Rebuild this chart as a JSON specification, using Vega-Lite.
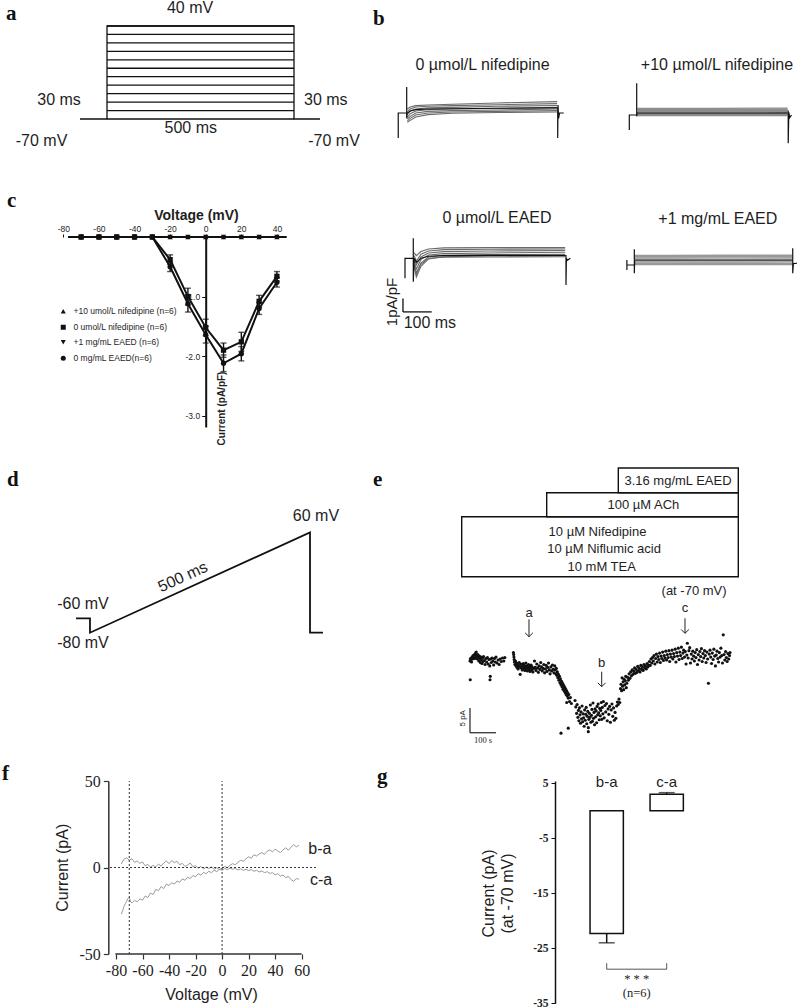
{
"$schema": "https://vega.github.io/schema/vega-lite/v6.json",
"padding": 0,
"background": "white",
"columns": 3,
"align": "each",
"spacing": 0,
"bounds": "flush",
"config": {
  "view": {"stroke": null},
  "concat": {"spacing": 0},
  "text": {"font": "Liberation Sans", "fontSize": 16, "color": "#1e1e1e"},
  "axis": {"grid": false, "labelFont": "Liberation Sans", "titleFont": "Liberation Sans", "domainColor": "#111", "tickColor": "#111", "labelColor": "#1e1e1e", "titleColor": "#1e1e1e", "labelOverlap": false}
},
"datasets": {
  "aLevels": [{"v":-70},{"v":-60},{"v":-50},{"v":-40},{"v":-30},{"v":-20},{"v":-10},{"v":0},{"v":10},{"v":20},{"v":30},{"v":40}],
  "aPath": [{"s":1,"t":-72.2,"v":-70},{"s":2,"t":0,"v":-70},{"s":3,"t":0,"v":40},{"s":4,"t":500,"v":40},{"s":5,"t":500,"v":-70},{"s":6,"t":569.5,"v":-70}],
  "aText": [{"label":"40 mV","t":222,"v":60.7},{"label":"30 ms","t":-128.3,"v":-47.5},{"label":"30 ms","t":585,"v":-47.5},{"label":"500 ms","t":224,"v":-80.6},{"label":"-70 mV","t":-175,"v":-96},{"label":"-70 mV","t":607,"v":-96}],
  "labA": [{"label":"a","t":-270,"v":47.1},{"label":"b","t":711.2,"v":41.2}],
  "cData": [
    {"cond":"+10 umol/L nifedipine (n=6)","v":-70,"m":0},{"cond":"+10 umol/L nifedipine (n=6)","v":-60,"m":0},{"cond":"+10 umol/L nifedipine (n=6)","v":-50,"m":0},{"cond":"+10 umol/L nifedipine (n=6)","v":-40,"m":0},{"cond":"+10 umol/L nifedipine (n=6)","v":-30,"m":0},{"cond":"+10 umol/L nifedipine (n=6)","v":-20,"m":0},{"cond":"+10 umol/L nifedipine (n=6)","v":-10,"m":0},{"cond":"+10 umol/L nifedipine (n=6)","v":0,"m":0},{"cond":"+10 umol/L nifedipine (n=6)","v":10,"m":0},{"cond":"+10 umol/L nifedipine (n=6)","v":20,"m":0},{"cond":"+10 umol/L nifedipine (n=6)","v":30,"m":0},{"cond":"+10 umol/L nifedipine (n=6)","v":40,"m":0},
    {"cond":"0 umol/L nifedipine (n=6)","v":-70,"m":0},{"cond":"0 umol/L nifedipine (n=6)","v":-60,"m":0},{"cond":"0 umol/L nifedipine (n=6)","v":-50,"m":0},{"cond":"0 umol/L nifedipine (n=6)","v":-40,"m":0},{"cond":"0 umol/L nifedipine (n=6)","v":-30,"m":0},{"cond":"0 umol/L nifedipine (n=6)","v":-20,"m":-0.38},{"cond":"0 umol/L nifedipine (n=6)","v":-10,"m":-1.0},{"cond":"0 umol/L nifedipine (n=6)","v":0,"m":-1.52},{"cond":"0 umol/L nifedipine (n=6)","v":10,"m":-1.9},{"cond":"0 umol/L nifedipine (n=6)","v":20,"m":-1.76},{"cond":"0 umol/L nifedipine (n=6)","v":30,"m":-1.08},{"cond":"0 umol/L nifedipine (n=6)","v":40,"m":-0.66},
    {"cond":"+1 mg/mL EAED (n=6)","v":-70,"m":0},{"cond":"+1 mg/mL EAED (n=6)","v":-60,"m":0},{"cond":"+1 mg/mL EAED (n=6)","v":-50,"m":0},{"cond":"+1 mg/mL EAED (n=6)","v":-40,"m":0},{"cond":"+1 mg/mL EAED (n=6)","v":-30,"m":0},{"cond":"+1 mg/mL EAED (n=6)","v":-20,"m":0},{"cond":"+1 mg/mL EAED (n=6)","v":-10,"m":0},{"cond":"+1 mg/mL EAED (n=6)","v":0,"m":0},{"cond":"+1 mg/mL EAED (n=6)","v":10,"m":0},{"cond":"+1 mg/mL EAED (n=6)","v":20,"m":0},{"cond":"+1 mg/mL EAED (n=6)","v":30,"m":0},{"cond":"+1 mg/mL EAED (n=6)","v":40,"m":0},
    {"cond":"0 mg/mL EAED(n=6)","v":-70,"m":0},{"cond":"0 mg/mL EAED(n=6)","v":-60,"m":0},{"cond":"0 mg/mL EAED(n=6)","v":-50,"m":0},{"cond":"0 mg/mL EAED(n=6)","v":-40,"m":0},{"cond":"0 mg/mL EAED(n=6)","v":-30,"m":0},{"cond":"0 mg/mL EAED(n=6)","v":-20,"m":-0.5},{"cond":"0 mg/mL EAED(n=6)","v":-10,"m":-1.12},{"cond":"0 mg/mL EAED(n=6)","v":0,"m":-1.64},{"cond":"0 mg/mL EAED(n=6)","v":10,"m":-2.12},{"cond":"0 mg/mL EAED(n=6)","v":20,"m":-1.96},{"cond":"0 mg/mL EAED(n=6)","v":30,"m":-1.2},{"cond":"0 mg/mL EAED(n=6)","v":40,"m":-0.76}
  ],
  "cErr": [
    {"v":-20,"lo":-0.46,"hi":-0.30},{"v":-10,"lo":-1.14,"hi":-0.86},{"v":0,"lo":-1.66,"hi":-1.38},{"v":10,"lo":-2.02,"hi":-1.78},{"v":20,"lo":-1.92,"hi":-1.60},{"v":30,"lo":-1.18,"hi":-0.98},{"v":40,"lo":-0.74,"hi":-0.58},
    {"v":-20,"lo":-0.58,"hi":-0.42},{"v":-10,"lo":-1.26,"hi":-0.98},{"v":0,"lo":-1.78,"hi":-1.50},{"v":10,"lo":-2.26,"hi":-1.98},{"v":20,"lo":-2.08,"hi":-1.84},{"v":30,"lo":-1.30,"hi":-1.10},{"v":40,"lo":-0.84,"hi":-0.68}
  ],
  "dPath": [{"s":1,"t":-31.8,"v":-60},{"s":2,"t":0,"v":-60},{"s":3,"t":0,"v":-80},{"s":4,"t":500,"v":60},{"s":5,"t":500,"v":-80},{"s":6,"t":529.5,"v":-80}],
  "dText": [{"label":"60 mV","t":513.6,"v":82.7},{"label":"-60 mV","t":-15.9,"v":-40},{"label":"-80 mV","t":-15.9,"v":-94.8}],
  "labD": [{"label":"d","t":-188.6,"v":124.6},{"label":"e","t":643.2,"v":124.6}],
  "fLines": [
    {"s":"b-a","v":-76,"i":2.0},{"s":"b-a","v":-74,"i":4.8},{"s":"b-a","v":-72,"i":5.6},{"s":"b-a","v":-70,"i":4.2},{"s":"b-a","v":-68,"i":5.1},{"s":"b-a","v":-66,"i":3.0},{"s":"b-a","v":-64,"i":3.8},{"s":"b-a","v":-62,"i":2.4},{"s":"b-a","v":-60,"i":3.2},{"s":"b-a","v":-58,"i":1.0},{"s":"b-a","v":-56,"i":1.8},{"s":"b-a","v":-54,"i":0.2},{"s":"b-a","v":-52,"i":1.2},{"s":"b-a","v":-50,"i":0.4},{"s":"b-a","v":-48,"i":2.0},{"s":"b-a","v":-46,"i":0.8},{"s":"b-a","v":-44,"i":2.6},{"s":"b-a","v":-42,"i":3.8},{"s":"b-a","v":-40,"i":2.2},{"s":"b-a","v":-38,"i":4.0},{"s":"b-a","v":-36,"i":2.8},{"s":"b-a","v":-34,"i":3.6},{"s":"b-a","v":-32,"i":1.6},{"s":"b-a","v":-30,"i":2.4},{"s":"b-a","v":-28,"i":0.6},{"s":"b-a","v":-26,"i":1.4},{"s":"b-a","v":-24,"i":2.6},{"s":"b-a","v":-22,"i":0.4},{"s":"b-a","v":-20,"i":1.2},{"s":"b-a","v":-18,"i":-0.4},{"s":"b-a","v":-16,"i":0.6},{"s":"b-a","v":-14,"i":-0.8},{"s":"b-a","v":-12,"i":0.2},{"s":"b-a","v":-10,"i":-0.6},{"s":"b-a","v":-8,"i":0.4},{"s":"b-a","v":-6,"i":-1.0},{"s":"b-a","v":-4,"i":-0.2},{"s":"b-a","v":-2,"i":-1.2},{"s":"b-a","v":0,"i":-0.4},{"s":"b-a","v":2,"i":0.6},{"s":"b-a","v":4,"i":-0.2},{"s":"b-a","v":6,"i":1.4},{"s":"b-a","v":8,"i":2.2},{"s":"b-a","v":10,"i":1.6},{"s":"b-a","v":12,"i":3.0},{"s":"b-a","v":14,"i":4.2},{"s":"b-a","v":16,"i":3.6},{"s":"b-a","v":18,"i":5.0},{"s":"b-a","v":20,"i":6.2},{"s":"b-a","v":22,"i":5.4},{"s":"b-a","v":24,"i":7.4},{"s":"b-a","v":26,"i":6.6},{"s":"b-a","v":28,"i":7.8},{"s":"b-a","v":30,"i":8.6},{"s":"b-a","v":32,"i":7.6},{"s":"b-a","v":34,"i":9.4},{"s":"b-a","v":36,"i":10.2},{"s":"b-a","v":38,"i":9.0},{"s":"b-a","v":40,"i":10.6},{"s":"b-a","v":42,"i":9.6},{"s":"b-a","v":44,"i":8.6},{"s":"b-a","v":46,"i":10.2},{"s":"b-a","v":48,"i":11.4},{"s":"b-a","v":50,"i":10.0},{"s":"b-a","v":52,"i":11.8},{"s":"b-a","v":54,"i":13.2},{"s":"b-a","v":56,"i":12.0},{"s":"b-a","v":58,"i":12.8},
    {"s":"c-a","v":-76,"i":-27.0},{"s":"c-a","v":-75,"i":-25.0},{"s":"c-a","v":-74,"i":-22.5},{"s":"c-a","v":-73,"i":-21.0},{"s":"c-a","v":-72,"i":-19.5},{"s":"c-a","v":-71,"i":-18.0},{"s":"c-a","v":-70,"i":-17.2},{"s":"c-a","v":-69,"i":-19.8},{"s":"c-a","v":-68,"i":-20.5},{"s":"c-a","v":-66,"i":-19.0},{"s":"c-a","v":-64,"i":-19.8},{"s":"c-a","v":-62,"i":-18.2},{"s":"c-a","v":-60,"i":-18.9},{"s":"c-a","v":-58,"i":-16.5},{"s":"c-a","v":-56,"i":-17.4},{"s":"c-a","v":-54,"i":-14.8},{"s":"c-a","v":-52,"i":-15.6},{"s":"c-a","v":-50,"i":-12.6},{"s":"c-a","v":-48,"i":-13.4},{"s":"c-a","v":-46,"i":-11.0},{"s":"c-a","v":-44,"i":-12.2},{"s":"c-a","v":-42,"i":-9.6},{"s":"c-a","v":-40,"i":-10.4},{"s":"c-a","v":-38,"i":-8.8},{"s":"c-a","v":-36,"i":-9.6},{"s":"c-a","v":-34,"i":-7.8},{"s":"c-a","v":-32,"i":-8.6},{"s":"c-a","v":-30,"i":-6.6},{"s":"c-a","v":-28,"i":-7.4},{"s":"c-a","v":-26,"i":-5.6},{"s":"c-a","v":-24,"i":-6.4},{"s":"c-a","v":-22,"i":-4.6},{"s":"c-a","v":-20,"i":-5.4},{"s":"c-a","v":-18,"i":-3.6},{"s":"c-a","v":-16,"i":-4.4},{"s":"c-a","v":-14,"i":-2.8},{"s":"c-a","v":-12,"i":-3.6},{"s":"c-a","v":-10,"i":-2.2},{"s":"c-a","v":-8,"i":-3.0},{"s":"c-a","v":-6,"i":-1.6},{"s":"c-a","v":-4,"i":-2.4},{"s":"c-a","v":-2,"i":-1.0},{"s":"c-a","v":0,"i":-1.6},{"s":"c-a","v":2,"i":-0.6},{"s":"c-a","v":4,"i":-1.2},{"s":"c-a","v":6,"i":-0.4},{"s":"c-a","v":8,"i":-1.0},{"s":"c-a","v":10,"i":-0.6},{"s":"c-a","v":12,"i":-1.4},{"s":"c-a","v":14,"i":-0.8},{"s":"c-a","v":16,"i":-1.6},{"s":"c-a","v":18,"i":-1.0},{"s":"c-a","v":20,"i":-1.8},{"s":"c-a","v":22,"i":-1.2},{"s":"c-a","v":24,"i":-2.2},{"s":"c-a","v":26,"i":-1.6},{"s":"c-a","v":28,"i":-2.6},{"s":"c-a","v":30,"i":-2.0},{"s":"c-a","v":32,"i":-3.0},{"s":"c-a","v":34,"i":-2.4},{"s":"c-a","v":36,"i":-3.4},{"s":"c-a","v":38,"i":-3.0},{"s":"c-a","v":40,"i":-4.2},{"s":"c-a","v":42,"i":-3.6},{"s":"c-a","v":44,"i":-5.0},{"s":"c-a","v":46,"i":-4.4},{"s":"c-a","v":48,"i":-5.8},{"s":"c-a","v":50,"i":-5.2},{"s":"c-a","v":52,"i":-7.0},{"s":"c-a","v":54,"i":-8.0},{"s":"c-a","v":56,"i":-6.4},{"s":"c-a","v":58,"i":-6.8}
  ],
  "fVert": [{"v":-70},{"v":0}],
  "fText": [{"label":"b-a","v":73.8,"i":10.6},{"label":"c-a","v":74.6,"i":-7.4}],
  "labF": [{"label":"f","v":-165.9,"i":50.6},{"label":"g","v":116.8,"i":48.8}],
  "bTLt": [
    {"k":"1","t":2,"i":0.3},{"k":"1","t":12,"i":0.45},{"k":"1","t":30,"i":0.55},{"k":"1","t":70,"i":0.6},{"k":"1","t":150,"i":0.65},{"k":"1","t":300,"i":0.75},{"k":"1","t":498,"i":0.85},
    {"k":"2","t":2,"i":0.1},{"k":"2","t":12,"i":0.3},{"k":"2","t":30,"i":0.45},{"k":"2","t":70,"i":0.5},{"k":"2","t":150,"i":0.55},{"k":"2","t":300,"i":0.62},{"k":"2","t":498,"i":0.7},
    {"k":"3","t":2,"i":-0.1},{"k":"3","t":12,"i":0.15},{"k":"3","t":30,"i":0.3},{"k":"3","t":70,"i":0.38},{"k":"3","t":150,"i":0.42},{"k":"3","t":300,"i":0.5},{"k":"3","t":498,"i":0.56},
    {"k":"4","t":2,"i":-0.3},{"k":"4","t":12,"i":-0.05},{"k":"4","t":30,"i":0.15},{"k":"4","t":70,"i":0.25},{"k":"4","t":150,"i":0.3},{"k":"4","t":300,"i":0.36},{"k":"4","t":498,"i":0.42},
    {"k":"5","t":2,"i":-0.45},{"k":"5","t":12,"i":-0.25},{"k":"5","t":30,"i":0.0},{"k":"5","t":70,"i":0.12},{"k":"5","t":150,"i":0.18},{"k":"5","t":300,"i":0.22},{"k":"5","t":498,"i":0.3},
    {"k":"6","t":2,"i":-0.6},{"k":"6","t":12,"i":-0.4},{"k":"6","t":30,"i":-0.15},{"k":"6","t":70,"i":0.0},{"k":"6","t":150,"i":0.08},{"k":"6","t":300,"i":0.12},{"k":"6","t":498,"i":0.18},
    {"k":"7","t":2,"i":-0.7},{"k":"7","t":12,"i":-0.55},{"k":"7","t":30,"i":-0.3},{"k":"7","t":70,"i":-0.12},{"k":"7","t":150,"i":-0.02},{"k":"7","t":300,"i":0.04},{"k":"7","t":498,"i":0.08},
    {"k":"d","t":2,"i":0.0},{"k":"d","t":12,"i":0.15},{"k":"d","t":30,"i":0.25},{"k":"d","t":70,"i":0.3},{"k":"d","t":150,"i":0.32},{"k":"d","t":300,"i":0.35},{"k":"d","t":498,"i":0.38}
  ],
  "bTLf": [{"k":"pre","s":1,"t":-28,"i":-1.87},{"k":"pre","s":2,"t":-28,"i":0},{"k":"pre","s":3,"t":0,"i":0},{"k":"pre","s":4,"t":0,"i":1.94},{"k":"pre","s":5,"t":0,"i":-0.4},{"k":"pre","s":6,"t":2,"i":0.0},
    {"k":"post","s":1,"t":498,"i":0.4},{"k":"post","s":2,"t":500,"i":0.4},{"k":"post","s":3,"t":500,"i":-1.87},{"k":"post","s":4,"t":501,"i":0.6},{"k":"post","s":5,"t":503,"i":-0.4},{"k":"post","s":6,"t":506,"i":0.0},{"k":"post","s":7,"t":520,"i":0.0}],
  "bTRt": [
    {"k":"1","t":2,"i":0.5},{"k":"1","t":60,"i":0.49},{"k":"1","t":250,"i":0.5},{"k":"1","t":498,"i":0.51},
    {"k":"2","t":2,"i":0.42},{"k":"2","t":60,"i":0.42},{"k":"2","t":250,"i":0.43},{"k":"2","t":498,"i":0.43},
    {"k":"3","t":2,"i":0.34},{"k":"3","t":60,"i":0.34},{"k":"3","t":250,"i":0.35},{"k":"3","t":498,"i":0.35},
    {"k":"4","t":2,"i":0.26},{"k":"4","t":60,"i":0.26},{"k":"4","t":250,"i":0.27},{"k":"4","t":498,"i":0.27},
    {"k":"5","t":2,"i":0.18},{"k":"5","t":60,"i":0.18},{"k":"5","t":250,"i":0.19},{"k":"5","t":498,"i":0.19},
    {"k":"6","t":2,"i":0.1},{"k":"6","t":60,"i":0.1},{"k":"6","t":250,"i":0.11},{"k":"6","t":498,"i":0.11},
    {"k":"7","t":2,"i":0.02},{"k":"7","t":60,"i":0.02},{"k":"7","t":250,"i":0.03},{"k":"7","t":498,"i":0.03},
    {"k":"8","t":2,"i":-0.05},{"k":"8","t":60,"i":-0.05},{"k":"8","t":250,"i":-0.04},{"k":"8","t":498,"i":-0.04},
    {"k":"d","t":2,"i":0.14},{"k":"d","t":60,"i":0.14},{"k":"d","t":250,"i":0.14},{"k":"d","t":498,"i":0.15}
  ],
  "bTRf": [{"k":"pre","s":1,"t":-24.4,"i":-1.12},{"k":"pre","s":2,"t":-24.4,"i":0},{"k":"pre","s":3,"t":0,"i":0},{"k":"pre","s":4,"t":0,"i":2.37},{"k":"pre","s":5,"t":0,"i":-0.1},{"k":"pre","s":6,"t":2,"i":0.2},
    {"k":"post","s":1,"t":498,"i":0.3},{"k":"post","s":2,"t":500,"i":0.3},{"k":"post","s":3,"t":500,"i":-2.1},{"k":"post","s":4,"t":502,"i":0.2},{"k":"post","s":5,"t":505,"i":-0.2},{"k":"post","s":6,"t":511,"i":0.0}],
  "bBLt": [
    {"k":"1","t":3,"i":0.4},{"k":"1","t":10,"i":0.2},{"k":"1","t":25,"i":0.5},{"k":"1","t":50,"i":0.7},{"k":"1","t":100,"i":0.78},{"k":"1","t":250,"i":0.8},{"k":"1","t":498,"i":0.8},
    {"k":"2","t":3,"i":0.2},{"k":"2","t":10,"i":-0.2},{"k":"2","t":25,"i":0.3},{"k":"2","t":50,"i":0.55},{"k":"2","t":100,"i":0.65},{"k":"2","t":250,"i":0.68},{"k":"2","t":498,"i":0.7},
    {"k":"3","t":3,"i":0.0},{"k":"3","t":10,"i":-0.5},{"k":"3","t":25,"i":0.1},{"k":"3","t":50,"i":0.4},{"k":"3","t":100,"i":0.5},{"k":"3","t":250,"i":0.55},{"k":"3","t":498,"i":0.58},
    {"k":"4","t":3,"i":-0.2},{"k":"4","t":10,"i":-0.8},{"k":"4","t":25,"i":-0.1},{"k":"4","t":50,"i":0.25},{"k":"4","t":100,"i":0.35},{"k":"4","t":250,"i":0.4},{"k":"4","t":498,"i":0.45},
    {"k":"5","t":3,"i":-0.4},{"k":"5","t":10,"i":-1.1},{"k":"5","t":25,"i":-0.35},{"k":"5","t":50,"i":0.1},{"k":"5","t":100,"i":0.22},{"k":"5","t":250,"i":0.28},{"k":"5","t":498,"i":0.3},
    {"k":"6","t":3,"i":-0.6},{"k":"6","t":10,"i":-1.4},{"k":"6","t":25,"i":-0.6},{"k":"6","t":50,"i":-0.05},{"k":"6","t":100,"i":0.12},{"k":"6","t":250,"i":0.18},{"k":"6","t":498,"i":0.2},
    {"k":"7","t":3,"i":-0.5},{"k":"7","t":10,"i":-1.2},{"k":"7","t":25,"i":-0.45},{"k":"7","t":50,"i":0.0},{"k":"7","t":100,"i":0.08},{"k":"7","t":250,"i":0.1},{"k":"7","t":498,"i":0.12},
    {"k":"d","t":3,"i":0.0},{"k":"d","t":10,"i":-0.3},{"k":"d","t":25,"i":0.0},{"k":"d","t":50,"i":0.15},{"k":"d","t":100,"i":0.2},{"k":"d","t":250,"i":0.22},{"k":"d","t":498,"i":0.22}
  ],
  "bBLf": [{"k":"pre","s":1,"t":-27.2,"i":-1.49},{"k":"pre","s":2,"t":-27.2,"i":0},{"k":"pre","s":3,"t":0,"i":0},{"k":"pre","s":4,"t":0,"i":1.49},{"k":"pre","s":5,"t":0,"i":-1.75},{"k":"pre","s":6,"t":3,"i":0.0},
    {"k":"post","s":1,"t":498,"i":0.2},{"k":"post","s":2,"t":500.6,"i":0.2},{"k":"post","s":3,"t":500.6,"i":-1.99},{"k":"post","s":4,"t":502,"i":0.0},{"k":"post","s":5,"t":505,"i":-0.15},{"k":"post","s":6,"t":515,"i":0.0}],
  "bBLbar": [{"t0":-33.8,"t1":-33.8,"i0":-3.0,"i1":-4.0},{"t0":-33.8,"t1":60.3,"i0":-4.0,"i1":-4.0}],
  "bBRt": [
    {"k":"1","t":2,"i":0.72},{"k":"1","t":100,"i":0.72},{"k":"1","t":300,"i":0.73},{"k":"1","t":498,"i":0.73},
    {"k":"2","t":2,"i":0.62},{"k":"2","t":100,"i":0.62},{"k":"2","t":300,"i":0.63},{"k":"2","t":498,"i":0.62},
    {"k":"3","t":2,"i":0.52},{"k":"3","t":100,"i":0.52},{"k":"3","t":300,"i":0.53},{"k":"3","t":498,"i":0.53},
    {"k":"4","t":2,"i":0.42},{"k":"4","t":100,"i":0.42},{"k":"4","t":300,"i":0.42},{"k":"4","t":498,"i":0.43},
    {"k":"5","t":2,"i":0.32},{"k":"5","t":100,"i":0.32},{"k":"5","t":300,"i":0.33},{"k":"5","t":498,"i":0.32},
    {"k":"6","t":2,"i":0.22},{"k":"6","t":100,"i":0.22},{"k":"6","t":300,"i":0.22},{"k":"6","t":498,"i":0.23},
    {"k":"7","t":2,"i":0.12},{"k":"7","t":100,"i":0.12},{"k":"7","t":300,"i":0.13},{"k":"7","t":498,"i":0.12},
    {"k":"8","t":2,"i":0.03},{"k":"8","t":100,"i":0.03},{"k":"8","t":300,"i":0.03},{"k":"8","t":498,"i":0.04},
    {"k":"d","t":2,"i":0.36},{"k":"d","t":100,"i":0.36},{"k":"d","t":300,"i":0.36},{"k":"d","t":498,"i":0.36}
  ],
  "bBRf": [{"k":"pre","s":1,"t":-23.5,"i":0.37},{"k":"pre","s":2,"t":-23.5,"i":-0.37},{"k":"pre","s":3,"t":-23.5,"i":0},{"k":"pre","s":4,"t":0,"i":0},{"k":"pre","s":5,"t":0,"i":1.17},{"k":"pre","s":6,"t":0,"i":-0.62},{"k":"pre","s":7,"t":1,"i":0.3},
    {"k":"post","s":1,"t":498,"i":0.4},{"k":"post","s":2,"t":500,"i":0.4},{"k":"post","s":3,"t":500,"i":1.25},{"k":"post","s":4,"t":500,"i":-0.62},{"k":"post","s":5,"t":502,"i":0.1},{"k":"post","s":6,"t":521.6,"i":0.15}],
  "eBoxes": [{"x0":-31.9,"x1":1031.9,"y0":0,"y1":2.5},{"x0":295,"x1":1031.9,"y0":2.5,"y1":3.5},{"x0":570.4,"x1":1031.9,"y0":3.5,"y1":4.53}],
  "eText": [{"label":"3.16 mg/mL EAED","t":800,"lv":4.0},{"label":"100 µM ACh","t":666.7,"lv":2.99},{"label":"10 µM Nifedipine","t":490.4,"lv":1.875},{"label":"10 µM Niflumic acid","t":515.6,"lv":1.154},{"label":"10 mM TEA","t":506.4,"lv":0.392},{"label":"(at -70 mV)","t":861.7,"lv":-0.596}],
  "eArrows": [{"lab":"a","t":226.9,"ly":9.45,"y1":8.24,"y2":4.72},{"lab":"b","t":506.5,"ly":-0.55,"y1":-2.37,"y2":-5.4},{"lab":"c","t":826.9,"ly":10.5,"y1":8.44,"y2":5.4}],
  "eBar": [{"t0":0,"t1":0,"i0":-9.72,"i1":-14.72},{"t0":0,"t1":100,"i0":-14.72,"i1":-14.72}],
  "eDots": [
    {"t":0,"i":-0.2},{"t":2,"i":0.3},{"t":4,"i":0.1},{"t":6,"i":-0.4},{"t":8,"i":0.6},{"t":10,"i":0.2},{"t":12,"i":0.9},{"t":14,"i":0.4},{"t":16,"i":1.0},{"t":18,"i":0.3},{"t":20,"i":1.3},{"t":22,"i":0.7},{"t":24,"i":1.6},{"t":26,"i":0.9},{"t":28,"i":0.2},{"t":30,"i":1.1},{"t":32,"i":0.5},{"t":34,"i":-0.2},{"t":36,"i":0.8},{"t":38,"i":0.3},{"t":40,"i":-0.5},{"t":42,"i":0.6},{"t":44,"i":0.0},{"t":46,"i":-0.7},{"t":48,"i":0.4},{"t":50,"i":-0.3},{"t":52,"i":0.7},{"t":55,"i":-0.1},{"t":58,"i":-0.9},{"t":61,"i":0.3},{"t":64,"i":-0.4},{"t":67,"i":0.5},{"t":70,"i":-0.8},{"t":73,"i":0.1},{"t":76,"i":-1.2},{"t":79,"i":0.2},{"t":82,"i":-0.5},{"t":85,"i":0.4},{"t":88,"i":-0.2},{"t":91,"i":-1.0},{"t":94,"i":0.3},{"t":97,"i":-0.4},{"t":100,"i":0.6},{"t":104,"i":-0.6},{"t":108,"i":0.0},{"t":112,"i":-0.9},{"t":116,"i":0.2},{"t":120,"i":-0.3},{"t":125,"i":0.4},{"t":130,"i":-0.2},{"t":134,"i":0.5},{"t":1,"i":-4.0},{"t":77,"i":-4.0},{"t":78,"i":-3.3},
    {"t":167,"i":1.5},{"t":168,"i":1.1},{"t":169,"i":0.6},{"t":170,"i":0.1},{"t":171,"i":-0.4},{"t":173,"i":-0.9},{"t":175,"i":-0.2},{"t":177,"i":-1.2},{"t":179,"i":-0.6},{"t":181,"i":-1.5},{"t":183,"i":-0.9},{"t":185,"i":-1.8},{"t":187,"i":-1.1},{"t":189,"i":-0.5},{"t":191,"i":-1.4},{"t":193,"i":-2.9},{"t":195,"i":-0.8},{"t":197,"i":-1.6},{"t":199,"i":-1.0},{"t":201,"i":-2.0},{"t":203,"i":-1.3},{"t":205,"i":-0.7},{"t":207,"i":-1.7},{"t":209,"i":-1.1},{"t":211,"i":-2.1},{"t":213,"i":-1.4},{"t":215,"i":-0.6},{"t":217,"i":-1.8},{"t":219,"i":-1.2},{"t":221,"i":-2.2},{"t":223,"i":-1.5},{"t":225,"i":-0.9},{"t":227,"i":-1.9},{"t":229,"i":-1.3},{"t":231,"i":-2.3},{"t":233,"i":-1.6},{"t":235,"i":-1.0},{"t":237,"i":-2.0},{"t":239,"i":-1.4},{"t":242,"i":-2.4},{"t":245,"i":-1.7},{"t":248,"i":-0.2},{"t":251,"i":-1.5},{"t":254,"i":-2.1},{"t":257,"i":-0.8},{"t":260,"i":-1.6},{"t":263,"i":-2.5},{"t":266,"i":-1.2},{"t":269,"i":-1.9},{"t":272,"i":-0.5},{"t":275,"i":-1.4},{"t":278,"i":-2.2},{"t":281,"i":-1.7},{"t":284,"i":-0.9},{"t":287,"i":-2.6},{"t":290,"i":-1.8},{"t":293,"i":-1.1},{"t":296,"i":-2.3},{"t":299,"i":-1.5},{"t":302,"i":-0.6},{"t":305,"i":-2.0},{"t":308,"i":-2.8},{"t":311,"i":-1.4},{"t":314,"i":-2.2},{"t":317,"i":-1.0},{"t":320,"i":-1.9},{"t":323,"i":-2.6},
    {"t":326,"i":-1.2},{"t":328,"i":-2.0},{"t":330,"i":-2.8},{"t":332,"i":-1.7},{"t":334,"i":-3.1},{"t":336,"i":-2.4},{"t":338,"i":-3.6},{"t":340,"i":-2.9},{"t":342,"i":-4.1},{"t":344,"i":-3.3},{"t":346,"i":-4.6},{"t":348,"i":-3.8},{"t":350,"i":-5.0},{"t":352,"i":-4.3},{"t":354,"i":-5.4},{"t":356,"i":-4.7},{"t":358,"i":-5.9},{"t":360,"i":-5.1},{"t":362,"i":-6.2},{"t":364,"i":-5.5},{"t":366,"i":-6.6},{"t":368,"i":-5.9},{"t":370,"i":-7.0},{"t":372,"i":-6.3},{"t":374,"i":-7.3},{"t":376,"i":-6.7},{"t":378,"i":-7.7},{"t":380,"i":-7.0},{"t":383,"i":-8.4},{"t":386,"i":-7.6},{"t":350,"i":-14.8},{"t":378,"i":-13.8},{"t":372,"i":-8.6},{"t":390,"i":-8.8},
    {"t":404,"i":-8.2},{"t":407,"i":-9.5},{"t":410,"i":-10.8},{"t":412,"i":-9.0},{"t":415,"i":-11.6},{"t":417,"i":-10.2},{"t":419,"i":-12.3},{"t":421,"i":-9.7},{"t":423,"i":-11.1},{"t":425,"i":-12.8},{"t":427,"i":-10.5},{"t":429,"i":-11.9},{"t":431,"i":-9.3},{"t":433,"i":-12.5},{"t":435,"i":-10.9},{"t":437,"i":-11.7},{"t":439,"i":-13.4},{"t":441,"i":-10.1},{"t":443,"i":-12.2},{"t":445,"i":-11.0},{"t":447,"i":-9.6},{"t":449,"i":-12.9},{"t":451,"i":-11.4},{"t":453,"i":-10.4},{"t":455,"i":-13.7},{"t":457,"i":-12.0},{"t":459,"i":-10.8},{"t":461,"i":-11.6},{"t":463,"i":-9.1},{"t":465,"i":-12.6},{"t":467,"i":-11.2},{"t":469,"i":-10.0},{"t":471,"i":-12.4},{"t":473,"i":-8.7},{"t":475,"i":-11.8},{"t":477,"i":-10.6},{"t":479,"i":-13.1},{"t":481,"i":-9.9},{"t":483,"i":-11.5},{"t":485,"i":-10.3},{"t":487,"i":-12.7},{"t":489,"i":-9.4},{"t":491,"i":-11.1},{"t":493,"i":-8.9},{"t":495,"i":-10.7},{"t":497,"i":-12.1},{"t":499,"i":-9.8},{"t":501,"i":-11.3},{"t":503,"i":-10.2},{"t":505,"i":-8.6},{"t":507,"i":-12.0},{"t":509,"i":-9.6},{"t":511,"i":-10.9},{"t":513,"i":-8.4},{"t":516,"i":-11.7},{"t":519,"i":-9.2},{"t":522,"i":-10.5},{"t":525,"i":-8.8},{"t":528,"i":-12.3},{"t":531,"i":-9.9},{"t":534,"i":-11.0},{"t":537,"i":-9.4},{"t":540,"i":-12.6},{"t":543,"i":-10.1},{"t":546,"i":-8.9},{"t":549,"i":-11.4},{"t":552,"i":-9.7},{"t":555,"i":-12.2},{"t":558,"i":-10.6},{"t":561,"i":-11.8},{"t":455,"i":-14.5},
    {"t":564,"i":-9.3},{"t":567,"i":-8.5},{"t":570,"i":-9.0},{"t":573,"i":-7.9},{"t":576,"i":-8.6},{"t":579,"i":-5.8},{"t":581,"i":-4.9},{"t":583,"i":-6.2},{"t":585,"i":-3.6},{"t":587,"i":-5.3},{"t":589,"i":-4.4},{"t":591,"i":-6.0},{"t":593,"i":-3.9},{"t":595,"i":-5.0},{"t":597,"i":-4.2},{"t":599,"i":-3.3},{"t":601,"i":-5.6},{"t":603,"i":-4.7},{"t":606,"i":-3.5},{"t":609,"i":-4.1},{"t":612,"i":-2.8},{"t":615,"i":-3.7},{"t":618,"i":-2.4},{"t":621,"i":-3.2},{"t":624,"i":-2.0},{"t":627,"i":-2.9},{"t":630,"i":-2.3},{"t":633,"i":-1.6},{"t":636,"i":-2.7},{"t":639,"i":-1.9},{"t":642,"i":-2.5},{"t":645,"i":-1.3},{"t":648,"i":-2.2},{"t":651,"i":-1.7},{"t":654,"i":-2.4},{"t":657,"i":-1.1},{"t":660,"i":-1.9},{"t":663,"i":-1.4},{"t":666,"i":-2.1},{"t":669,"i":-0.9},{"t":672,"i":-1.6},{"t":675,"i":-1.2},{"t":678,"i":-1.8},{"t":681,"i":-0.7},{"t":684,"i":-1.4},{"t":687,"i":-1.0},
    {"t":690,"i":-0.3},{"t":693,"i":-1.1},{"t":696,"i":0.2},{"t":699,"i":-0.6},{"t":702,"i":0.5},{"t":705,"i":-0.2},{"t":708,"i":0.9},{"t":711,"i":-0.8},{"t":714,"i":0.3},{"t":717,"i":1.2},{"t":720,"i":-0.4},{"t":723,"i":0.7},{"t":726,"i":0.1},{"t":729,"i":1.4},{"t":732,"i":-0.5},{"t":735,"i":0.8},{"t":738,"i":0.3},{"t":741,"i":1.6},{"t":744,"i":-0.1},{"t":747,"i":0.9},{"t":750,"i":0.4},{"t":753,"i":1.8},{"t":756,"i":0.0},{"t":759,"i":1.1},{"t":762,"i":0.5},{"t":765,"i":1.9},{"t":768,"i":-0.3},{"t":771,"i":1.2},{"t":774,"i":0.6},{"t":777,"i":2.0},{"t":780,"i":0.2},{"t":783,"i":1.3},{"t":786,"i":0.7},{"t":789,"i":2.2},{"t":792,"i":-0.4},{"t":795,"i":1.5},{"t":798,"i":0.8},{"t":801,"i":2.4},{"t":804,"i":0.1},{"t":807,"i":1.6},{"t":810,"i":0.9},{"t":813,"i":2.6},{"t":816,"i":0.3},{"t":819,"i":1.4},{"t":822,"i":2.0},{"t":825,"i":0.6},{"t":828,"i":1.7},{"t":831,"i":-0.8},{"t":834,"i":1.0},{"t":836,"i":3.4},{"t":839,"i":0.4},{"t":842,"i":1.9},{"t":845,"i":2.5},{"t":848,"i":-0.6},{"t":851,"i":1.2},{"t":854,"i":0.2},{"t":857,"i":1.8},{"t":860,"i":0.8},{"t":863,"i":-0.2},{"t":866,"i":1.5},{"t":869,"i":0.5},{"t":872,"i":2.1},{"t":875,"i":-0.9},{"t":878,"i":1.1},{"t":881,"i":0.0},{"t":884,"i":1.7},{"t":887,"i":0.7},{"t":890,"i":2.3},{"t":893,"i":-0.3},{"t":896,"i":1.3},{"t":899,"i":0.4},{"t":902,"i":1.9},{"t":905,"i":0.9},{"t":908,"i":-0.5},{"t":911,"i":1.6},{"t":914,"i":0.2},{"t":917,"i":-4.7},{"t":920,"i":1.2},{"t":923,"i":2.0},{"t":926,"i":0.6},{"t":929,"i":-0.7},{"t":932,"i":1.4},{"t":935,"i":0.1},{"t":938,"i":2.2},{"t":941,"i":0.8},{"t":944,"i":-1.2},{"t":947,"i":1.0},{"t":950,"i":1.8},{"t":953,"i":0.3},{"t":956,"i":-0.4},{"t":959,"i":1.5},{"t":962,"i":0.6},{"t":965,"i":2.4},{"t":968,"i":0.9},{"t":971,"i":-0.6},{"t":974,"i":5.1},{"t":977,"i":1.1},{"t":980,"i":0.0},{"t":983,"i":1.7},{"t":986,"i":0.5},{"t":989,"i":-0.3},{"t":992,"i":1.3},{"t":995,"i":0.2},{"t":998,"i":0.9},{"t":1000,"i":1.5}
  ],
  "gBars": [{"cond":"b-a","m":-22.3,"tip":-24.0},{"cond":"c-a","m":3.0,"tip":3.3}],
  "gBracket": [{"cond":"b-a","y":-27.7,"s":1},{"cond":"b-a","y":-28.8,"s":2},{"cond":"c-a","y":-28.8,"s":3},{"cond":"c-a","y":-27.7,"s":4}],
  "gSig": [{"cond":"b-a","label":"* * *","y":-30.6},{"cond":"b-a","label":"(n=6)","y":-33.1}]
},
"concat": [
  {"width": 378, "height": 237, "layer": [
    {"data": {"name": "aLevels"}, "mark": {"type": "rule", "color": "#111", "strokeWidth": 1.3},
     "encoding": {"x": {"datum": 0, "type": "quantitative", "scale": {"domain": [-286.1, 724.6], "nice": false, "zero": false}, "axis": null}, "x2": {"datum": 500},
                  "y": {"field": "v", "type": "quantitative", "scale": {"domain": [-209.6, 70.75], "nice": false, "zero": false}, "axis": null}}},
    {"data": {"name": "aPath"}, "mark": {"type": "line", "color": "#111", "strokeWidth": 1.3},
     "encoding": {"x": {"field": "t", "type": "quantitative", "axis": null}, "y": {"field": "v", "type": "quantitative", "axis": null}, "order": {"field": "s", "type": "quantitative"}}},
    {"data": {"name": "aText"}, "mark": {"type": "text", "fontSize": 16},
     "encoding": {"x": {"field": "t", "type": "quantitative", "axis": null}, "y": {"field": "v", "type": "quantitative", "axis": null}, "text": {"field": "label"}}},
    {"data": {"name": "labA"}, "mark": {"type": "text", "font": "Liberation Serif", "fontWeight": "bold", "fontSize": 21, "align": "left", "baseline": "alphabetic", "color": "#111"},
     "encoding": {"x": {"field": "t", "type": "quantitative", "axis": null}, "y": {"field": "v", "type": "quantitative", "axis": null}, "text": {"field": "label"}}}
  ]},
  {"width": 209, "height": 237, "layer": [
    {"data": {"name": "bTLt"}, "mark": {"type": "line", "strokeWidth": 1.1},
     "encoding": {"x": {"field": "t", "type": "quantitative", "scale": {"domain": [-95, 597], "nice": false, "zero": false}, "axis": null},
                  "y": {"field": "i", "type": "quantitative", "scale": {"domain": [-9.25, 8.43], "nice": false, "zero": false}, "axis": null},
                  "detail": {"field": "k"}, "color": {"condition": {"test": "datum.k === 'd'", "value": "#111"}, "value": "#6a6a6a"}}},
    {"data": {"name": "bTLf"}, "mark": {"type": "line", "color": "#111", "strokeWidth": 1.2},
     "encoding": {"x": {"field": "t", "type": "quantitative", "axis": null}, "y": {"field": "i", "type": "quantitative", "axis": null}, "detail": {"field": "k"}, "order": {"field": "s", "type": "quantitative"}}},
    {"data": {"values": [{"label": "0 µmol/L nifedipine", "t": 251, "i": 3.58}]}, "mark": {"type": "text", "fontSize": 16},
     "encoding": {"x": {"field": "t", "type": "quantitative", "axis": null}, "y": {"field": "i", "type": "quantitative", "axis": null}, "text": {"field": "label"}}}
  ]},
  {"width": 210, "height": 237, "layer": [
    {"data": {"name": "bTRt"}, "mark": {"type": "line", "strokeWidth": 1.3},
     "encoding": {"x": {"field": "t", "type": "quantitative", "scale": {"domain": [-164, 529], "nice": false, "zero": false}, "axis": null},
                  "y": {"field": "i", "type": "quantitative", "scale": {"domain": [-9.10, 8.58], "nice": false, "zero": false}, "axis": null},
                  "detail": {"field": "k"}, "color": {"condition": {"test": "datum.k === 'd'", "value": "#333"}, "value": "#8c8c8c"}}},
    {"data": {"name": "bTRf"}, "mark": {"type": "line", "color": "#111", "strokeWidth": 1.2},
     "encoding": {"x": {"field": "t", "type": "quantitative", "axis": null}, "y": {"field": "i", "type": "quantitative", "axis": null}, "detail": {"field": "k"}, "order": {"field": "s", "type": "quantitative"}}},
    {"data": {"values": [{"label": "+10 µmol/L  nifedipine", "t": 265, "i": 3.73}]}, "mark": {"type": "text", "fontSize": 16},
     "encoding": {"x": {"field": "t", "type": "quantitative", "axis": null}, "y": {"field": "i", "type": "quantitative", "axis": null}, "text": {"field": "label"}}}
  ]},
  {"width": 378, "height": 190, "layer": [
    {"data": {"name": "cData"}, "mark": {"type": "line", "color": "#111", "strokeWidth": 2},
     "encoding": {
       "x": {"field": "v", "type": "quantitative", "scale": {"domain": [-115.6, 96.8], "nice": false, "zero": false},
             "axis": {"orient": "top", "domain": false, "values": [-80,-60,-40,-20,0,20,40], "labelExpr": "datum.value + ''", "tickSize": 3, "labelFontSize": 8.5, "labelPadding": 1, "title": "Voltage (mV)", "titleFontSize": 14, "titleFontWeight": "bold", "titleX": 196, "titleY": -22, "titleAlign": "center", "titleBaseline": "middle"}},
       "y": {"field": "m", "type": "quantitative", "scale": {"domain": [-3.19, 0], "nice": false, "zero": false},
             "axis": {"orient": "left", "offset": -205.7, "values": [-1,-2,-3], "labelExpr": "datum.value + '.0'", "tickSize": 4, "labelFontSize": 8.5, "domainWidth": 2, "title": "Current (pA/pF)", "titleFontSize": 10, "titleFontWeight": "bold", "titleAngle": 270, "titleX": 16, "titleY": 171, "titleAlign": "center", "titleBaseline": "middle"}},
       "detail": {"field": "cond"}}},
    {"data": {"name": "cErr"}, "mark": {"type": "rule", "color": "#111", "strokeWidth": 1.4},
     "encoding": {"x": {"field": "v", "type": "quantitative"}, "y": {"field": "lo", "type": "quantitative"}, "y2": {"field": "hi"}}},
    {"data": {"name": "cErr"}, "mark": {"type": "tick", "color": "#111", "thickness": 1.4, "size": 6, "orient": "horizontal"},
     "encoding": {"x": {"field": "v", "type": "quantitative"}, "y": {"field": "lo", "type": "quantitative"}}},
    {"data": {"name": "cErr"}, "mark": {"type": "tick", "color": "#111", "thickness": 1.4, "size": 6, "orient": "horizontal"},
     "encoding": {"x": {"field": "v", "type": "quantitative"}, "y": {"field": "hi", "type": "quantitative"}}},
    {"data": {"values": [{}]}, "mark": {"type": "rule", "color": "#111", "strokeWidth": 2},
     "encoding": {"x": {"datum": -77.4, "type": "quantitative"}, "x2": {"datum": 45.5}, "y": {"datum": 0, "type": "quantitative"}}},
    {"data": {"name": "cData"}, "mark": {"type": "point", "filled": true, "size": 28, "opacity": 1, "color": "#111"},
     "encoding": {"x": {"field": "v", "type": "quantitative"}, "y": {"field": "m", "type": "quantitative"},
       "shape": {"field": "cond", "type": "nominal",
         "scale": {"domain": ["+10 umol/L nifedipine (n=6)", "0 umol/L nifedipine (n=6)", "+1 mg/mL EAED (n=6)", "0 mg/mL EAED(n=6)"], "range": ["triangle-up", "square", "triangle-down", "circle"]},
         "legend": {"orient": "none", "legendX": 59, "legendY": 307, "title": null, "padding": 0, "labelFontSize": 8.5, "labelFont": "Liberation Sans", "labelColor": "#1e1e1e", "symbolSize": 25, "symbolFillColor": "#111", "symbolStrokeColor": "#111", "symbolStrokeWidth": 1.4, "rowPadding": 4, "labelOffset": 6}}}},
    {"data": {"values": [{"label": "c", "v": -111.6, "m": 0.504}]}, "mark": {"type": "text", "font": "Liberation Serif", "fontWeight": "bold", "fontSize": 21, "align": "left", "baseline": "alphabetic", "color": "#111"},
     "encoding": {"x": {"field": "v", "type": "quantitative"}, "y": {"field": "m", "type": "quantitative"}, "text": {"field": "label"}}}
  ]},
  {"width": 209, "height": 190, "layer": [
    {"data": {"name": "bBLt"}, "mark": {"type": "line", "strokeWidth": 1.1},
     "encoding": {"x": {"field": "t", "type": "quantitative", "scale": {"domain": [-115.7, 569.5], "nice": false, "zero": false}, "axis": null},
                  "y": {"field": "i", "type": "quantitative", "scale": {"domain": [-12.59, 1.59], "nice": false, "zero": false}, "axis": null},
                  "detail": {"field": "k"}, "color": {"condition": {"test": "datum.k === 'd'", "value": "#111"}, "value": "#6a6a6a"}}},
    {"data": {"name": "bBLf"}, "mark": {"type": "line", "color": "#111", "strokeWidth": 1.2},
     "encoding": {"x": {"field": "t", "type": "quantitative", "axis": null}, "y": {"field": "i", "type": "quantitative", "axis": null}, "detail": {"field": "k"}, "order": {"field": "s", "type": "quantitative"}}},
    {"data": {"name": "bBLbar"}, "mark": {"type": "rule", "color": "#111", "strokeWidth": 1.3},
     "encoding": {"x": {"field": "t0", "type": "quantitative", "axis": null}, "x2": {"field": "t1"}, "y": {"field": "i0", "type": "quantitative", "axis": null}, "y2": {"field": "i1"}}},
    {"data": {"values": [{"label": "0 µmol/L EAED", "t": 274.4, "i": 3.0}, {"label": "100 ms", "t": 54.4, "i": -4.83}]}, "mark": {"type": "text", "fontSize": 16},
     "encoding": {"x": {"field": "t", "type": "quantitative", "axis": null}, "y": {"field": "i", "type": "quantitative", "axis": null}, "text": {"field": "label"}}},
    {"data": {"values": [{"label": "1pA/pF", "t": -69.8, "i": -3.26}]}, "mark": {"type": "text", "fontSize": 15, "angle": 270},
     "encoding": {"x": {"field": "t", "type": "quantitative", "axis": null}, "y": {"field": "i", "type": "quantitative", "axis": null}, "text": {"field": "label"}}}
  ]},
  {"width": 210, "height": 190, "layer": [
    {"data": {"name": "bBRt"}, "mark": {"type": "line", "strokeWidth": 1.4},
     "encoding": {"x": {"field": "t", "type": "quantitative", "scale": {"domain": [-149.4, 513.5], "nice": false, "zero": false}, "axis": null},
                  "y": {"field": "i", "type": "quantitative", "scale": {"domain": [-12.09, 2.09], "nice": false, "zero": false}, "axis": null},
                  "detail": {"field": "k"}, "color": {"condition": {"test": "datum.k === 'd'", "value": "#555"}, "value": "#999999"}}},
    {"data": {"name": "bBRf"}, "mark": {"type": "line", "color": "#111", "strokeWidth": 1.2},
     "encoding": {"x": {"field": "t", "type": "quantitative", "axis": null}, "y": {"field": "i", "type": "quantitative", "axis": null}, "detail": {"field": "k"}, "order": {"field": "s", "type": "quantitative"}}},
    {"data": {"values": [{"label": "+1 mg/mL  EAED", "t": 263.5, "i": 3.43}]}, "mark": {"type": "text", "fontSize": 16},
     "encoding": {"x": {"field": "t", "type": "quantitative", "axis": null}, "y": {"field": "i", "type": "quantitative", "axis": null}, "text": {"field": "label"}}}
  ]},
  {"width": 378, "height": 354, "layer": [
    {"data": {"name": "dPath"}, "mark": {"type": "line", "color": "#111", "strokeWidth": 1.8},
     "encoding": {"x": {"field": "t", "type": "quantitative", "scale": {"domain": [-204.5, 654.5], "nice": false, "zero": false}, "axis": null},
                  "y": {"field": "v", "type": "quantitative", "scale": {"domain": [-286.8, 206.9], "nice": false, "zero": false}, "axis": null},
                  "order": {"field": "s", "type": "quantitative"}}},
    {"data": {"name": "dText"}, "mark": {"type": "text", "fontSize": 16},
     "encoding": {"x": {"field": "t", "type": "quantitative", "axis": null}, "y": {"field": "v", "type": "quantitative", "axis": null}, "text": {"field": "label"}}},
    {"data": {"values": [{"label": "500 ms", "t": 211, "v": -2.3}]}, "mark": {"type": "text", "fontSize": 16, "angle": 335.5},
     "encoding": {"x": {"field": "t", "type": "quantitative", "axis": null}, "y": {"field": "v", "type": "quantitative", "axis": null}, "text": {"field": "label"}}},
    {"data": {"name": "labD"}, "mark": {"type": "text", "font": "Liberation Serif", "fontWeight": "bold", "fontSize": 21, "align": "left", "baseline": "alphabetic", "color": "#111"},
     "encoding": {"x": {"field": "t", "type": "quantitative", "axis": null}, "y": {"field": "v", "type": "quantitative", "axis": null}, "text": {"field": "label"}}}
  ]},
  {"width": 209, "height": 354, "layer": [
    {"layer": [
      {"data": {"name": "eBoxes"}, "mark": {"type": "rect", "fill": "white", "stroke": "#111", "strokeWidth": 1.4},
       "encoding": {"x": {"field": "x0", "type": "quantitative", "scale": {"domain": [-353.8, 450], "nice": false, "zero": false}, "axis": null}, "x2": {"field": "x1"},
                    "y": {"field": "y0", "type": "quantitative", "scale": {"domain": [-8.5125, 6.2375], "nice": false, "zero": false}, "axis": null}, "y2": {"field": "y1"}}},
      {"data": {"name": "eText"}, "mark": {"type": "text", "fontSize": 13},
       "encoding": {"x": {"field": "t", "type": "quantitative", "axis": null}, "y": {"field": "lv", "type": "quantitative", "axis": null}, "text": {"field": "label"}}}
    ]},
    {"layer": [
      {"data": {"name": "eDots"}, "mark": {"type": "circle", "size": 10, "color": "#111", "opacity": 1},
       "encoding": {"x": {"field": "t", "type": "quantitative", "axis": null},
                    "y": {"field": "i", "type": "quantitative", "scale": {"domain": [-24.49, 47.17], "nice": false, "zero": false}, "axis": null}}},
      {"data": {"name": "eArrows"}, "mark": {"type": "rule", "color": "#222", "strokeWidth": 1},
       "encoding": {"x": {"field": "t", "type": "quantitative", "axis": null}, "y": {"field": "y1", "type": "quantitative", "axis": null}, "y2": {"field": "y2"}}},
      {"data": {"name": "eArrows"}, "mark": {"type": "point", "shape": "M-1,-1L0,0L1,-1", "size": 60, "filled": false, "color": "#222", "strokeWidth": 1, "opacity": 1},
       "encoding": {"x": {"field": "t", "type": "quantitative", "axis": null}, "y": {"field": "y2", "type": "quantitative", "axis": null}}},
      {"data": {"name": "eArrows"}, "mark": {"type": "text", "fontSize": 13},
       "encoding": {"x": {"field": "t", "type": "quantitative", "axis": null}, "y": {"field": "ly", "type": "quantitative", "axis": null}, "text": {"field": "lab"}}},
      {"data": {"name": "eBar"}, "mark": {"type": "rule", "color": "#222", "strokeWidth": 1.2},
       "encoding": {"x": {"field": "t0", "type": "quantitative", "axis": null}, "x2": {"field": "t1"}, "y": {"field": "i0", "type": "quantitative", "axis": null}, "y2": {"field": "i1"}}},
      {"data": {"values": [{"label": "5 pA", "t": -28, "i": -11.8}]}, "mark": {"type": "text", "fontSize": 8, "angle": 270},
       "encoding": {"x": {"field": "t", "type": "quantitative", "axis": null}, "y": {"field": "i", "type": "quantitative", "axis": null}, "text": {"field": "label"}}},
      {"data": {"values": [{"label": "100 s", "t": 50, "i": -16.1}]}, "mark": {"type": "text", "fontSize": 8.5, "font": "Liberation Serif"},
       "encoding": {"x": {"field": "t", "type": "quantitative", "axis": null}, "y": {"field": "i", "type": "quantitative", "axis": null}, "text": {"field": "label"}}}
    ]}
  ], "resolve": {"scale": {"y": "independent"}}},
  {"width": 1, "height": 1, "data": {"values": [{}]}, "mark": {"type": "point", "opacity": 0}},
  {"width": 378, "height": 173, "layer": [
    {"data": {"name": "fLines"}, "mark": {"type": "line", "color": "#9a9a9a", "strokeWidth": 1},
     "encoding": {
       "x": {"field": "v", "type": "quantitative", "scale": {"domain": [-167.5, 117.6], "nice": false, "zero": false},
             "axis": {"orient": "bottom", "domain": false, "values": [-80,-60,-40,-20,0,20,40,60], "labelExpr": "datum.value + ''", "tickSize": 5, "tickColor": "#333", "tickWidth": 1.2, "labelFont": "Liberation Serif", "labelFontSize": 16, "labelPadding": 3, "title": "Voltage (mV)", "titleFontSize": 16, "titleFontWeight": "normal", "titleX": 211, "titleY": 40, "titleAlign": "center", "titleBaseline": "middle"}},
       "y": {"field": "i", "type": "quantitative", "scale": {"domain": [-50, 50], "nice": false, "zero": false},
             "axis": {"orient": "left", "offset": -108.3, "values": [-50, 0, 50], "labelExpr": "datum.value + ''", "tickSize": 5, "domainWidth": 1.5, "domainColor": "#333", "tickColor": "#333", "tickWidth": 1.2, "labelFont": "Liberation Serif", "labelFontSize": 16, "labelPadding": 3, "title": "Current (pA)", "titleFontSize": 16, "titleFontWeight": "normal", "titleAngle": 270, "titleX": -46.3, "titleY": 86.3, "titleAlign": "center", "titleBaseline": "middle"}},
       "detail": {"field": "s"}}},
    {"data": {"values": [{}]}, "mark": {"type": "rule", "strokeDash": [2, 2], "color": "#333", "strokeWidth": 1},
     "encoding": {"x": {"datum": -84.5, "type": "quantitative"}, "x2": {"datum": 70.8}, "y": {"datum": 0, "type": "quantitative"}}},
    {"data": {"name": "fVert"}, "mark": {"type": "rule", "strokeDash": [2, 2], "color": "#333", "strokeWidth": 1},
     "encoding": {"x": {"field": "v", "type": "quantitative"}, "y": {"datum": -50, "type": "quantitative"}, "y2": {"datum": 50}}},
    {"data": {"values": [{}]}, "mark": {"type": "rule", "color": "#333", "strokeWidth": 1.5},
     "encoding": {"x": {"datum": -80.5, "type": "quantitative"}, "x2": {"datum": 60}, "y": {"datum": -50, "type": "quantitative"}}},
    {"data": {"name": "fText"}, "mark": {"type": "text", "fontSize": 16},
     "encoding": {"x": {"field": "v", "type": "quantitative"}, "y": {"field": "i", "type": "quantitative"}, "text": {"field": "label"}}},
    {"data": {"name": "labF"}, "mark": {"type": "text", "font": "Liberation Serif", "fontWeight": "bold", "fontSize": 21, "align": "left", "baseline": "alphabetic", "color": "#111"},
     "encoding": {"x": {"field": "v", "type": "quantitative"}, "y": {"field": "i", "type": "quantitative"}, "text": {"field": "label"}}}
  ]},
  {"width": 209, "height": 222.3, "layer": [
    {"data": {"name": "gBars"}, "mark": {"type": "bar", "fill": "white", "stroke": "#111", "strokeWidth": 1.5},
     "encoding": {"x": {"field": "cond", "type": "nominal", "scale": {"domain": ["b-a", "c-a"], "range": [212.05, 305.35], "paddingInner": 0.445, "paddingOuter": 0}, "axis": null},
                  "y": {"field": "m", "type": "quantitative", "scale": {"domain": [-35, 5.42], "nice": false, "zero": false},
                        "axis": {"orient": "left", "offset": -177, "values": [5, -5, -15, -25, -35], "labelExpr": "datum.value + ''", "tickSize": 4, "domainWidth": 1.5, "labelFont": "Liberation Serif", "labelFontWeight": "bold", "labelFontSize": 11.5, "labelPadding": 3, "title": ["Current (pA)", "(at -70 mV)"], "titleFontSize": 16, "titleFontWeight": "normal", "titleAngle": 270, "titleX": -67, "titleY": 112, "titleAlign": "center", "titleBaseline": "middle", "titleLineHeight": 19}},
                  "y2": {"datum": 0}}},
    {"data": {"name": "gBars"}, "mark": {"type": "rule", "color": "#111", "strokeWidth": 1.5},
     "encoding": {"x": {"field": "cond", "type": "nominal", "axis": null}, "y": {"field": "m", "type": "quantitative"}, "y2": {"field": "tip"}}},
    {"data": {"name": "gBars"}, "mark": {"type": "tick", "color": "#111", "thickness": 1.5, "size": 16, "orient": "horizontal"},
     "encoding": {"x": {"field": "cond", "type": "nominal", "axis": null}, "y": {"field": "tip", "type": "quantitative"}}},
    {"data": {"name": "gBars"}, "mark": {"type": "text", "fontSize": 15},
     "encoding": {"x": {"field": "cond", "type": "nominal", "axis": null}, "y": {"datum": 5.2, "type": "quantitative"}, "text": {"field": "cond"}}},
    {"data": {"name": "gBracket"}, "mark": {"type": "line", "color": "#555", "strokeWidth": 1},
     "encoding": {"x": {"field": "cond", "type": "nominal", "axis": null}, "y": {"field": "y", "type": "quantitative"}, "order": {"field": "s", "type": "quantitative"}}},
    {"data": {"name": "gSig"}, "mark": {"type": "text", "font": "Liberation Serif", "fontSize": 12.5, "dx": 30},
     "encoding": {"x": {"field": "cond", "type": "nominal", "axis": null}, "y": {"field": "y", "type": "quantitative"}, "text": {"field": "label"}}}
  ]}
]
}
